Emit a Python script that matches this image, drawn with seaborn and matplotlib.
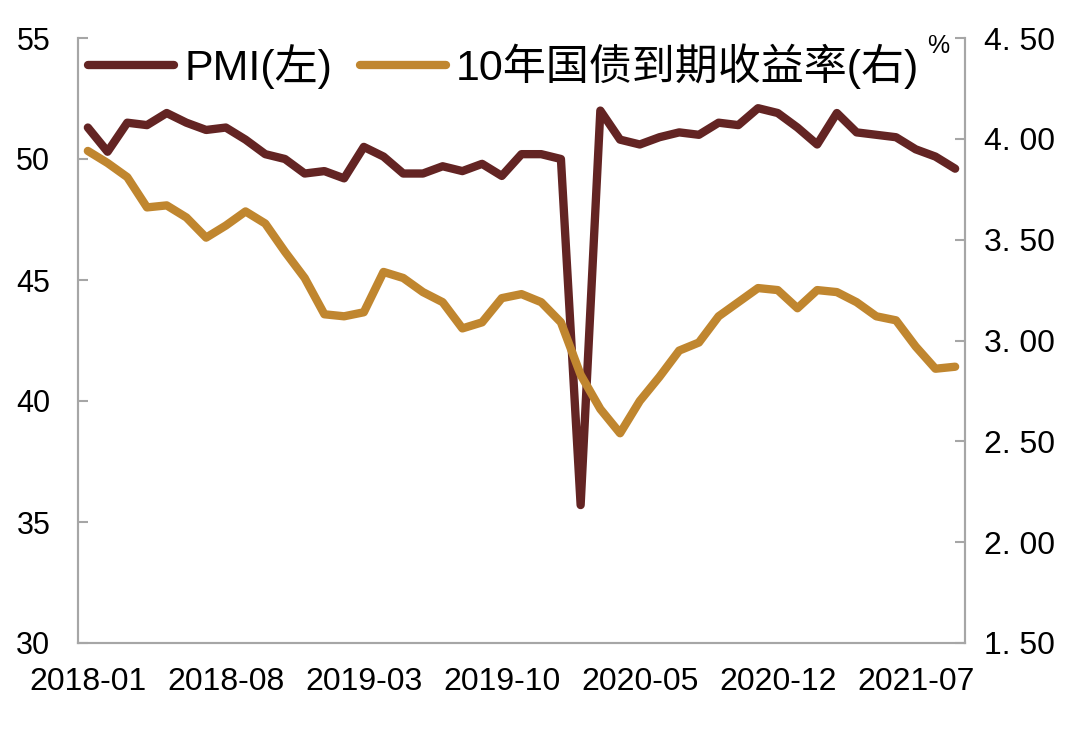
import pandas as pd
import seaborn as sns
import matplotlib.pyplot as plt
from matplotlib.ticker import FixedLocator

# Dados: PMI (eixo esquerdo) e rendimento do título de 10 anos (eixo direito)
months = [str(p) for p in pd.period_range('2018-01', '2021-09', freq='M')]
pmi = [51.3, 50.3, 51.5, 51.4, 51.9, 51.5, 51.2, 51.3, 50.8, 50.2, 50.0, 49.4,
       49.5, 49.2, 50.5, 50.1, 49.4, 49.4, 49.7, 49.5, 49.8, 49.3, 50.2, 50.2,
       50.0, 35.7, 52.0, 50.8, 50.6, 50.9, 51.1, 51.0, 51.5, 51.4, 52.1, 51.9,
       51.3, 50.6, 51.9, 51.1, 51.0, 50.9, 50.4, 50.1, 49.6]
yield10 = [3.94, 3.88, 3.81, 3.66, 3.67, 3.61, 3.51, 3.57, 3.64, 3.58, 3.44, 3.31,
           3.13, 3.12, 3.14, 3.34, 3.31, 3.24, 3.19, 3.06, 3.09, 3.21, 3.23, 3.19,
           3.09, 2.83, 2.66, 2.54, 2.70, 2.82, 2.95, 2.99, 3.12, 3.19, 3.26, 3.25,
           3.16, 3.25, 3.24, 3.19, 3.12, 3.10, 2.97, 2.86, 2.87]
left_ticks = [30, 35, 40, 45, 50, 55]
right_ticks = [1.5, 2.0, 2.5, 3.0, 3.5, 4.0, 4.5]
right_labels = ['1. 50', '2. 00', '2. 50', '3. 00', '3. 50', '4. 00', '4. 50']
label_step = 7

df = pd.DataFrame({'month': months, 'pmi': pmi, 'yield10': yield10})

sns.set_style('white')
plt.rcParams['font.family'] = ['Liberation Sans', 'Noto Sans CJK SC']
plt.rcParams['text.color'] = 'black'
plt.rcParams['xtick.color'] = 'black'
plt.rcParams['ytick.color'] = 'black'

fig = plt.figure(figsize=(10.8, 7.36), dpi=100)
ax = fig.add_axes([78 / 1080, 1 - 643 / 736, (965 - 78) / 1080, (643 - 38) / 736])
ax2 = ax.twinx()

sns.lineplot(data=df, x='month', y='pmi', ax=ax, color='#632423', lw=6,
             label='PMI(左)', legend=False)
sns.lineplot(data=df, x='month', y='yield10', ax=ax2, color='#C0862F', lw=6,
             label='10年国债到期收益率(右)', legend=False)

n = len(months)
ax.set_xlim(-0.5, n - 0.5)
ax.set_ylim(30, 55)
ax2.set_ylim(1.5, 4.5)

# Rótulos do eixo X a cada 7 meses, marcas entre categorias
pos = list(range(0, n, label_step))
ax.set_xticks(pos)
ax.set_xticklabels([months[i] for i in pos], fontsize=23)
ax.xaxis.set_minor_locator(FixedLocator([i + label_step - 0.5 for i in pos if i + label_step - 0.5 < n - 0.5]))
ax.tick_params(axis='x', which='major', length=0, pad=17, labelcolor='black')
ax.tick_params(axis='x', which='minor', direction='in', length=8, width=1.5, color='#A6A6A6')

ax.set_yticks(left_ticks)
ax.set_yticklabels([str(t) for t in left_ticks], fontsize=22)
ax.tick_params(axis='y', direction='in', length=7, width=1.5, color='#A6A6A6', pad=20,
               labelcolor='black')
ax2.set_yticks(right_ticks)
ax2.set_yticklabels(right_labels, fontsize=23)
ax2.tick_params(axis='y', direction='in', length=7, width=1.5, color='#A6A6A6', pad=14,
                labelcolor='black')

for a in (ax, ax2):
    a.set_xlabel('')
    a.set_ylabel('')
    a.spines['top'].set_visible(False)
    for s in ('left', 'right', 'bottom'):
        a.spines[s].set_color('#A6A6A6')
        a.spines[s].set_linewidth(1.5)
    a.grid(False)

# Legenda combinada
h1, l1 = ax.get_legend_handles_labels()
h2, l2 = ax2.get_legend_handles_labels()
leg = ax2.legend(h1 + h2, l1 + l2, loc='center left', ncol=2, frameon=False,
                 bbox_to_anchor=(88 / 1080, 1 - 66 / 736), bbox_transform=fig.transFigure,
                 fontsize=31, handlelength=2.0, handletextpad=0.23, columnspacing=0.65,
                 borderpad=0, borderaxespad=0)
for t in leg.get_texts():
    t.set_color('black')

fig.text(938 / 1080, 1 - 46 / 736, '%', fontsize=18, ha='center', va='center')

plt.savefig('out.png', dpi=100)
